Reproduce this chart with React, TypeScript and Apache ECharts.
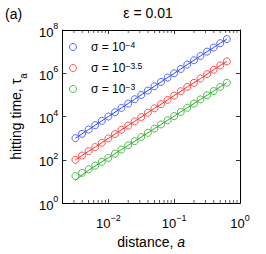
import React, { useEffect, useRef } from "react";
import * as echarts from "echarts";

// distance a
const distance = [0.00316, 0.00398, 0.00501, 0.00631, 0.00794, 0.01, 0.0126, 0.0158, 0.02, 0.0251, 0.0316, 0.0398, 0.0501, 0.0631, 0.0794, 0.1, 0.126, 0.158, 0.2, 0.251, 0.316, 0.398, 0.501, 0.631];
// hitting time, sigma = 1e-4
const tauSigma4 = [1000, 1585, 2512, 3981, 6310, 10000, 15850, 25120, 39810, 63100, 100000, 158500, 251200, 398100, 631000, 1000000, 1585000, 2512000, 3981000, 6310000, 10000000, 15500000, 24500000, 38000000];
// hitting time, sigma = 1e-3.5
const tauSigma35 = [100, 158, 251, 389, 617, 977, 1549, 2455, 3802, 6026, 9550, 15100, 24000, 37200, 58900, 93300, 148000, 234000, 363000, 575000, 912000, 1450000, 2290000, 3550000];
// hitting time, sigma = 1e-3
const tauSigma3 = [17.8, 25.1, 36.3, 53.7, 81.3, 123, 192, 299, 467, 728, 1135, 1770, 2761, 4305, 6714, 10470, 16330, 25470, 39720, 61940, 96610, 150700, 235000, 366400];
// theory curve for sigma = 1e-3
const theorySigma3 = [11.2, 20, 33, 52, 81, 123, 192, 299, 467, 728, 1135, 1770, 2761, 4305, 6714, 10470, 16330, 25470, 39720, 61940, 96610, 150700, 235000, 366400];

const minorTicksX = [0.003, 0.004, 0.005, 0.006, 0.007, 0.008, 0.009, 0.02, 0.03, 0.04, 0.05, 0.06, 0.07, 0.08, 0.09, 0.2, 0.3, 0.4, 0.5, 0.6, 0.7, 0.8, 0.9];

const seriesNames = ["s4", "s35", "s3"];
const legendLabels = ["σ = 10{sup|−4}", "σ = 10{sup|−3.5}", "σ = 10{sup|−3}"];
const colors = ["#2a46ff", "#ff2a2a", "#2aa82a"];

const FONT = "'Liberation Sans', Arial, Helvetica, sans-serif";

const powLabel = (v: number) => {
  const l = Math.log10(v);
  if (Math.abs(l - Math.round(l)) > 1e-6) return "";
  const e = Math.round(l);
  return `{b|10}{sup|${e < 0 ? "−" + -e : e}}`;
};

const tickRich = {
  b: { fontSize: 13, fontFamily: FONT, color: "#000", lineHeight: 17, verticalAlign: "bottom" },
  sup: { fontSize: 9, fontFamily: FONT, color: "#000", lineHeight: 10, verticalAlign: "top" },
};

export default function App() {
  const ref = useRef<HTMLDivElement>(null);
  useEffect(() => {
    if (!ref.current) return;
    const chart = echarts.init(ref.current, undefined, { renderer: "svg" });
    const dataSets = [tauSigma4, tauSigma35, tauSigma3];
    const theory = [tauSigma4, tauSigma35, theorySigma3];
    const series: any[] = [];
    dataSets.forEach((d, i) => {
      series.push({
        name: seriesNames[i],
        type: "scatter",
        data: distance.map((x, k) => [x, d[k]]),
        symbol: "circle",
        symbolSize: 7,
        itemStyle: { color: "transparent", borderColor: colors[i], borderWidth: 1 },
        z: 3,
        silent: true,
      });
      series.push({
        name: "fit" + i,
        type: "line",
        data: distance.map((x, k) => [x, theory[i][k]]),
        showSymbol: false,
        lineStyle: { color: colors[i], width: 1 },
        z: 4,
        silent: true,
      });
    });
    series.push({
      name: "minorBottom",
      type: "scatter",
      data: minorTicksX.map((x) => [x, 1]),
      symbol: "rect",
      symbolSize: [0.8, 3],
      symbolOffset: [0, -1.5],
      itemStyle: { color: "#000" },
      clip: false,
      silent: true,
      z: 5,
    });
    series.push({
      name: "minorTop",
      type: "scatter",
      data: minorTicksX.map((x) => [x, 1e8]),
      symbol: "rect",
      symbolSize: [0.8, 3],
      symbolOffset: [0, 1.5],
      itemStyle: { color: "#000" },
      clip: false,
      silent: true,
      z: 5,
    });

    const axisLine = { show: true, lineStyle: { color: "#000", width: 1 } };
    const axisTick = { show: true, inside: true, length: 4, lineStyle: { color: "#000", width: 0.8 } };

    chart.setOption({
      animation: false,
      textStyle: { fontFamily: FONT },
      grid: { left: 61, right: 26, top: 30, bottom: 45 },
      graphic: [
        { type: "text", x: 148, y: 13, style: { text: "ε = 0.01", fontSize: 14, fontFamily: FONT, fill: "#000", textAlign: "center", textVerticalAlign: "middle" } },
        { type: "text", x: 5, y: 14, style: { text: "(a)", fontSize: 14, fontFamily: FONT, fill: "#000", textAlign: "left", textVerticalAlign: "middle" } },
      ],
      legend: {
        orient: "vertical",
        left: 64,
        top: 35,
        itemWidth: 26,
        itemHeight: 7,
        itemGap: 7,
        selectedMode: false,
        data: seriesNames.map((n, i) => ({
          name: n,
          icon: "circle",
          itemStyle: { color: "transparent", borderColor: colors[i], borderWidth: 1 },
        })),
        formatter: (name: string) => legendLabels[seriesNames.indexOf(name)],
        textStyle: {
          fontSize: 12,
          fontFamily: FONT,
          color: "#000",
          lineHeight: 14,
          rich: {
            sup: { fontSize: 8.5, fontFamily: FONT, color: "#000", lineHeight: 9, verticalAlign: "top" },
          },
        },
      },
      xAxis: [
        {
          type: "log",
          logBase: 10,
          min: 0.002,
          max: 1,
          position: "bottom",
          axisLine,
          axisTick,
          splitLine: { show: false },
          axisLabel: { margin: 10, formatter: powLabel, rich: tickRich, showMinLabel: true, showMaxLabel: true },
          name: "distance, {i|a}",
          nameLocation: "middle",
          nameGap: 19,
          nameTextStyle: {
            fontSize: 14,
            fontFamily: FONT,
            color: "#000",
            rich: { i: { fontSize: 14, fontFamily: FONT, fontStyle: "italic", color: "#000" } },
          },
        },
        {
          type: "log",
          logBase: 10,
          min: 0.002,
          max: 1,
          position: "top",
          axisLine,
          axisTick,
          splitLine: { show: false },
          axisLabel: { show: false },
        },
      ],
      yAxis: [
        {
          type: "log",
          logBase: 10,
          min: 1,
          max: 1e8,
          interval: 2,
          axisLine,
          axisTick,
          splitLine: { show: false },
          axisLabel: { margin: 4, formatter: powLabel, rich: tickRich },
          name: "hitting time, τ{sub|a}",
          nameLocation: "middle",
          nameGap: 23,
          nameTextStyle: {
            fontSize: 14,
            fontFamily: FONT,
            color: "#000",
            lineHeight: 16,
            rich: { sub: { fontSize: 10, fontFamily: FONT, color: "#000", lineHeight: 10, verticalAlign: "bottom", padding: [0, 0, -4, 0] } },
          },
        },
        {
          type: "log",
          logBase: 10,
          min: 1,
          max: 1e8,
          interval: 2,
          position: "right",
          axisLine,
          axisTick,
          splitLine: { show: false },
          axisLabel: { show: false },
        },
      ],
      series,
    });
    return () => chart.dispose();
  }, []);
  return <div ref={ref} style={{ position: "absolute", left: 0, top: 0, width: 266, height: 254 }} />;
}
